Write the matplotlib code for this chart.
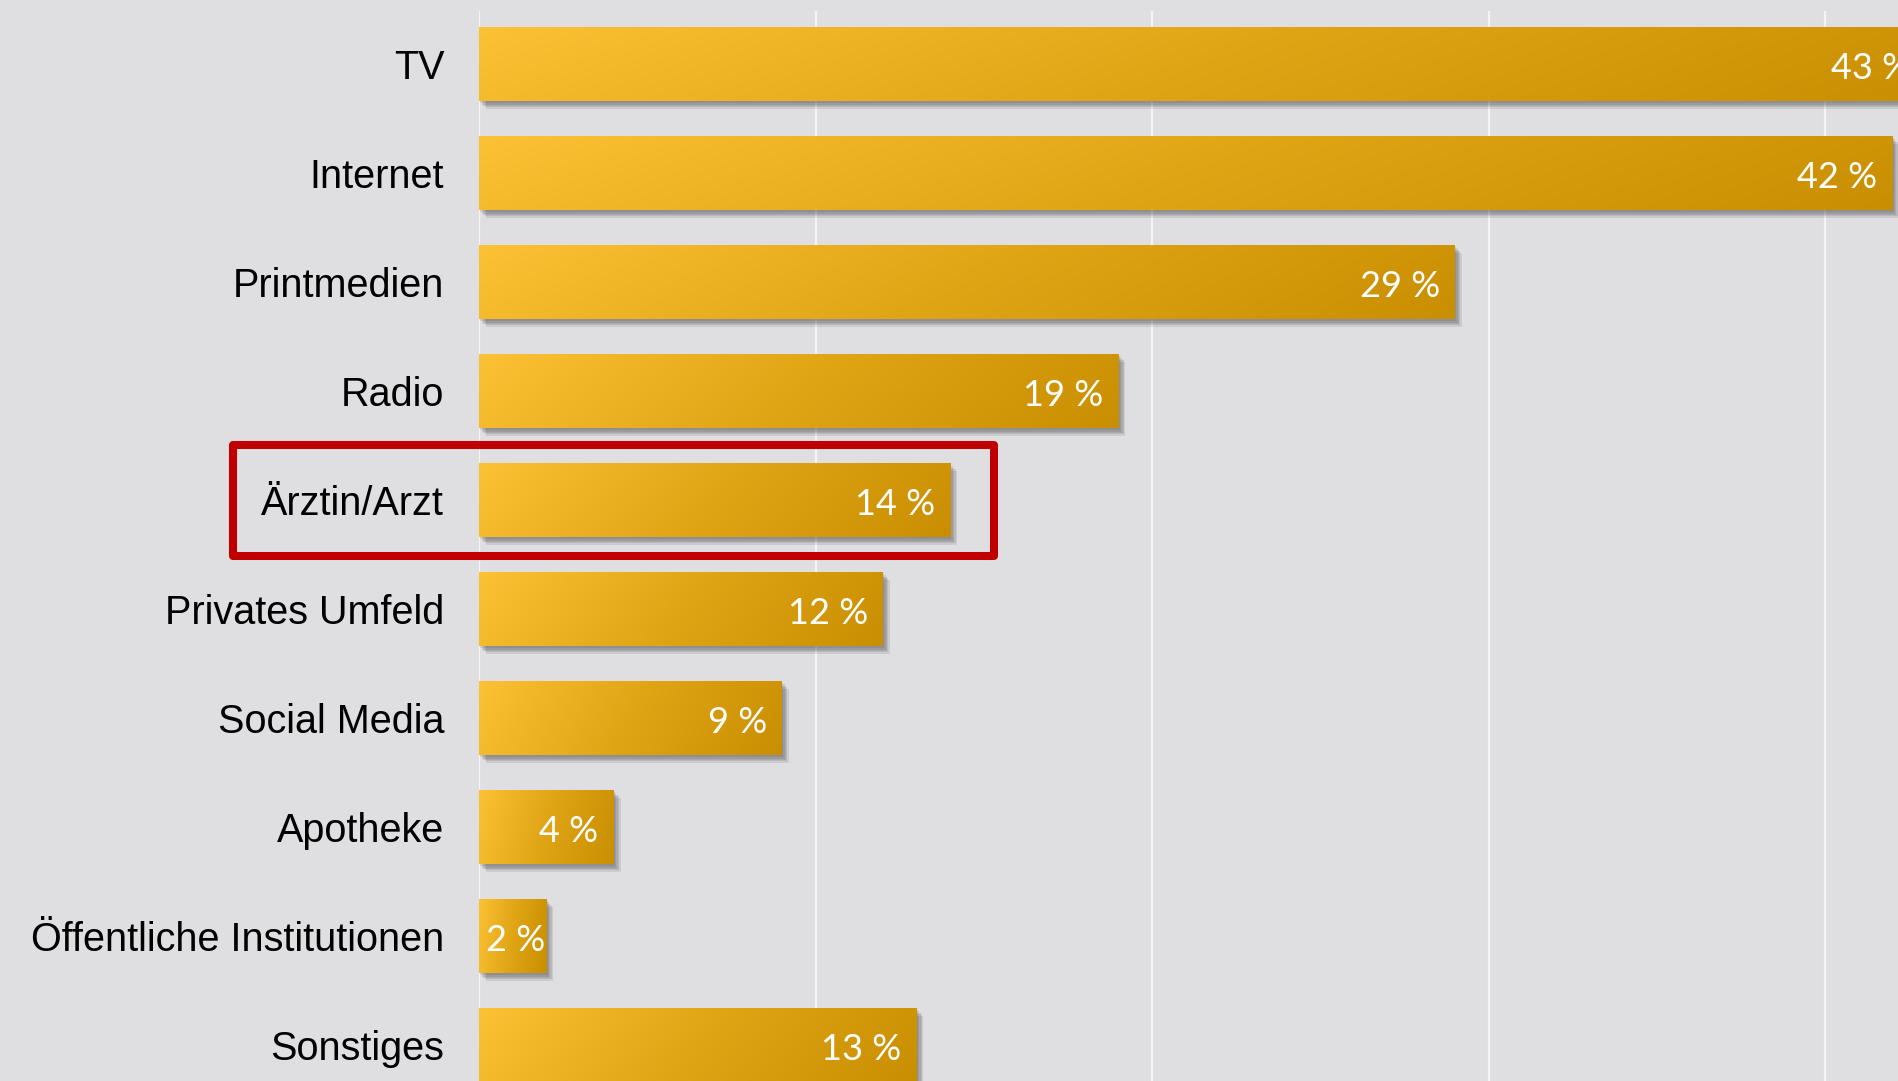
import numpy as np
import matplotlib.pyplot as plt
import matplotlib.patheffects as pe
from matplotlib.patches import Rectangle
from matplotlib.colors import LinearSegmentedColormap

categories = ['TV', 'Internet', 'Printmedien', 'Radio', 'Ärztin/Arzt',
              'Privates Umfeld', 'Social Media', 'Apotheke',
              'Öffentliche Institutionen', 'Sonstiges']
values = [43, 42, 29, 19, 14, 12, 9, 4, 2, 13]
highlight = 'Ärztin/Arzt'
grid_ticks = [0, 10, 20, 30, 40]

bg = '#dfdfe1'
gold = LinearSegmentedColormap.from_list('gold', ['#fcc134', '#e0a515', '#c98f02'])

plt.rcParams['font.family'] = ['Liberation Sans', 'DejaVu Sans']

W, H = 1898, 1081
fig = plt.figure(figsize=(W / 100, H / 100), dpi=100, facecolor=bg)
ax = fig.add_axes([479 / W, 0, 1 - 479 / W, 1 - 11 / H])
ax.set_facecolor(bg)

bar_h = 0.68
ypos = np.arange(len(categories))

# soft drop shadow built from a few offset copies
shadow = [pe.SimplePatchShadow(offset=(o, -o - 0.5), shadow_rgbFace='#303030', alpha=0.11)
          for o in (1.0, 2.0, 3.0, 4.0, 5.0)] + [pe.Normal()]
bars = ax.barh(ypos, values, height=bar_h, color='#c98f02', zorder=3,
               path_effects=shadow)

# diagonal gold gradient inside every bar
gx, gy = np.meshgrid(np.linspace(0, 1, 256), np.linspace(0, 1, 64))
grad = np.clip(0.88 * gx + 0.12 * gy, 0, 1)
for b, y, v in zip(bars, ypos, values):
    im = ax.imshow(grad, extent=(0, v, y + bar_h / 2, y - bar_h / 2), aspect='auto',
                   cmap=gold, interpolation='bicubic', zorder=4)
    im.set_clip_path(b)

xmax = (W - 479) / 33.65
ax.set_xlim(0, xmax)
ax.set_ylim(9.33, -0.486)

px_per_unit = (W - 479) / xmax
for y, v in zip(ypos, values):
    if v * px_per_unit < 100:
        ax.text(0.22, y + 0.04, f'{v} %', ha='left', va='center', color='white',
                fontsize=26, family='Lato', zorder=6)
    else:
        ax.text(v - 15 / px_per_unit, y + 0.04, f'{v} %', ha='right', va='center',
                color='white', fontsize=26, family='Lato', zorder=6)

ax.set_yticks(ypos)
ax.set_yticklabels(categories, fontsize=28.5, color='black')
ax.tick_params(axis='y', length=0, pad=25)
ax.set_xticks(grid_ticks)
ax.tick_params(axis='x', length=0, labelbottom=False)
ax.xaxis.grid(True, color='#f4f4f5', linewidth=1.6)
ax.set_axisbelow(True)
for s in ax.spines.values():
    s.set_visible(False)

# red frame around the highlighted row
i = categories.index(highlight)
left = -7.30
right = values[i] + 1.3
ax.add_patch(Rectangle((left, i - 0.50), right - left, 1.01, fill=False,
                       edgecolor='#c00000', linewidth=5.8, joinstyle='round',
                       clip_on=False, zorder=7))

fig.savefig('out.png', dpi=100, facecolor=bg)
